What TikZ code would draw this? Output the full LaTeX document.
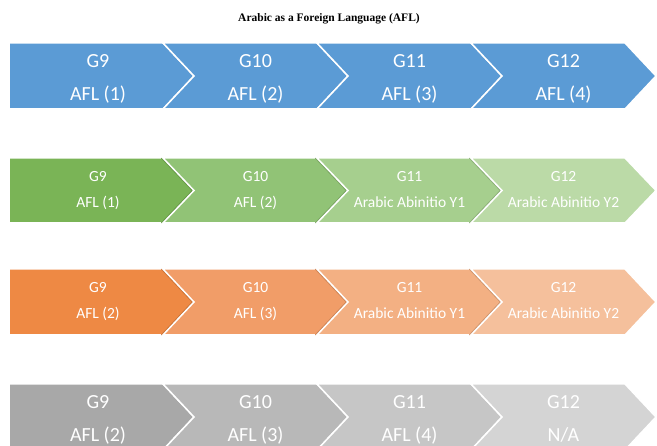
\documentclass[tikz,border=0pt]{standalone}
\usepackage{fontspec}
\setmainfont{Liberation Serif}
\newfontfamily\carlito{Carlito}

% row colours
\definecolor{blueA}{RGB}{91,155,213}
\definecolor{greenA}{RGB}{122,180,86}
\definecolor{greenB}{RGB}{145,195,118}
\definecolor{greenC}{RGB}{166,207,142}
\definecolor{greenD}{RGB}{187,218,167}
\definecolor{orangeA}{RGB}{238,137,68}
\definecolor{orangeB}{RGB}{241,157,104}
\definecolor{orangeC}{RGB}{243,176,131}
\definecolor{orangeD}{RGB}{245,192,156}
\definecolor{grayA}{RGB}{168,168,168}
\definecolor{grayB}{RGB}{184,184,184}
\definecolor{grayC}{RGB}{198,198,198}
\definecolor{grayD}{RGB}{212,212,212}

\tikzset{
  segment/.style={draw=white, line width=1.5pt, line join=miter},
  edgeshade/.style={line width=1.1pt},
  bigtxt/.style={text=white, anchor=base, inner sep=0pt,
    font=\carlito\fontsize{20}{24}\selectfont},
  smalltxt/.style={text=white, anchor=base, inner sep=0pt,
    font=\carlito\fontsize{15.5}{19}\selectfont},
  titletxt/.style={anchor=base, inner sep=0pt,
    font=\bfseries\fontsize{11.5}{14}\selectfont},
}

% first segment of a row: flat left end, pointed right end
% #1 colour, #2 top, #3 bottom
\newcommand{\homeseg}[3]{%
  \path[segment, fill=#1] (9,#2) -- (163,#2) -- (194,{(#2+#3)/2})
    -- (163,#3) -- (9,#3) -- cycle;}
% chevron segment with notch on its left
% #1 left x, #2 colour, #3 top, #4 bottom
\newcommand{\chevseg}[4]{%
  \path[segment, fill=#2] (#1,#3) -- ({#1+154},#3) -- ({#1+185},{(#3+#4)/2})
    -- ({#1+154},#4) -- (#1,#4) -- ({#1+31},{(#3+#4)/2}) -- cycle;}
% darker rim along the tip of the previous segment
% #1 left x of the notch, #2 colour, #3 top, #4 bottom
\newcommand{\tipshade}[4]{%
  \draw[edgeshade, #2] ({#1-1.6},#3) -- ({#1+29.4},{(#3+#4)/2}) -- ({#1-1.6},#4);}

\begin{document}
\begin{tikzpicture}[x=1pt, y=-1pt]
  \useasboundingbox (0,0) rectangle (657,446);
  \clip (0,0) rectangle (657,446);

  % title
  \node[titletxt] (title) at (329,22) {Arabic as a Foreign Language (AFL)};

  % ---- row 1 : AFL (1) to AFL (4)
  \homeseg{blueA}{43}{109}
  \chevseg{163}{blueA}{43}{109}
  \chevseg{317}{blueA}{43}{109}
  \chevseg{471}{blueA}{43}{109}
  \node[bigtxt] (a1g) at (98,67.5)    {G9};
  \node[bigtxt] (a1t) at (98,100.5)   {AFL (1)};
  \node[bigtxt] (a2g) at (255.5,67.5) {G10};
  \node[bigtxt] (a2t) at (255.5,100.5){AFL (2)};
  \node[bigtxt] (a3g) at (409.5,67.5) {G11};
  \node[bigtxt] (a3t) at (409.5,100.5){AFL (3)};
  \node[bigtxt] (a4g) at (563.5,67.5) {G12};
  \node[bigtxt] (a4t) at (563.5,100.5){AFL (4)};

  % ---- row 2 : green
  \homeseg{greenA}{158}{223}
  \tipshade{163}{greenA!85!black}{158}{223}
  \chevseg{163}{greenB}{158}{223}
  \tipshade{317}{greenB!85!black}{158}{223}
  \chevseg{317}{greenC}{158}{223}
  \tipshade{471}{greenC!85!black}{158}{223}
  \chevseg{471}{greenD}{158}{223}
  \node[smalltxt] (b1g) at (98,182)    {G9};
  \node[smalltxt] (b1t) at (98,208)    {AFL (1)};
  \node[smalltxt] (b2g) at (255.5,182) {G10};
  \node[smalltxt] (b2t) at (255.5,208) {AFL (2)};
  \node[smalltxt] (b3g) at (409.5,182) {G11};
  \node[smalltxt] (b3t) at (409.5,208) {Arabic Abinitio Y1};
  \node[smalltxt] (b4g) at (563.5,182) {G12};
  \node[smalltxt] (b4t) at (563.5,208) {Arabic Abinitio Y2};

  % ---- row 3 : orange
  \homeseg{orangeA}{269}{335}
  \tipshade{163}{orangeA!85!black}{269}{335}
  \chevseg{163}{orangeB}{269}{335}
  \tipshade{317}{orangeB!85!black}{269}{335}
  \chevseg{317}{orangeC}{269}{335}
  \tipshade{471}{orangeC!85!black}{269}{335}
  \chevseg{471}{orangeD}{269}{335}
  \node[smalltxt] (c1g) at (98,293)    {G9};
  \node[smalltxt] (c1t) at (98,319)    {AFL (2)};
  \node[smalltxt] (c2g) at (255.5,293) {G10};
  \node[smalltxt] (c2t) at (255.5,319) {AFL (3)};
  \node[smalltxt] (c3g) at (409.5,293) {G11};
  \node[smalltxt] (c3t) at (409.5,319) {Arabic Abinitio Y1};
  \node[smalltxt] (c4g) at (563.5,293) {G12};
  \node[smalltxt] (c4t) at (563.5,319) {Arabic Abinitio Y2};

  % ---- row 4 : grey
  \homeseg{grayA}{384}{450}
  \chevseg{163}{grayB}{384}{450}
  \chevseg{317}{grayC}{384}{450}
  \chevseg{471}{grayD}{384}{450}
  \node[bigtxt] (d1g) at (98,408.5)    {G9};
  \node[bigtxt] (d1t) at (98,441.5)    {AFL (2)};
  \node[bigtxt] (d2g) at (255.5,408.5) {G10};
  \node[bigtxt] (d2t) at (255.5,441.5) {AFL (3)};
  \node[bigtxt] (d3g) at (409.5,408.5) {G11};
  \node[bigtxt] (d3t) at (409.5,441.5) {AFL (4)};
  \node[bigtxt] (d4g) at (563.5,408.5) {G12};
  \node[bigtxt] (d4t) at (563.5,441.5) {N/A};
\end{tikzpicture}
\end{document}
